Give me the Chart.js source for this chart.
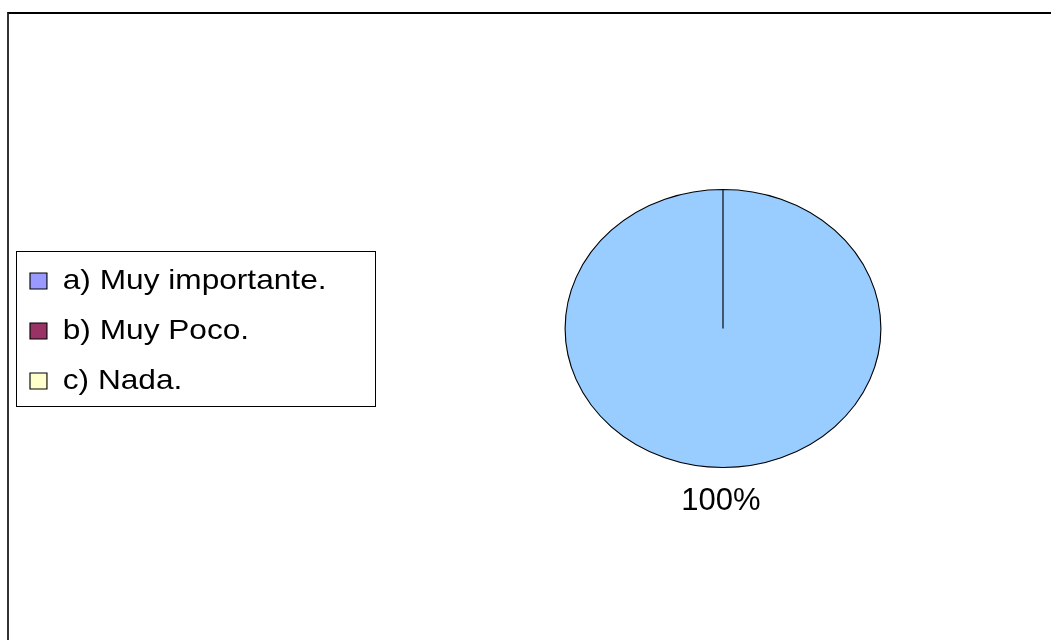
<!DOCTYPE html>
<html>
<head>
    <title>Importancia</title>
    <meta charset="utf-8">
    <script src="https://cdn.jsdelivr.net/npm/chart.js"></script>
    <style>
        html, body {
            margin: 0;
            padding: 0;
            background: #ffffff;
            overflow: hidden;
        }

        #frame {
            position: absolute;
            left: 7px;
            top: 12px;
            width: 1100px;
            height: 700px;
            border-top: 2px solid #000000;
            border-left: 2px solid #333333;
        }

        #chart-container {
            position: absolute;
            left: 0;
            top: 0;
            width: 1051px;
            height: 640px;
        }
    </style>
</head>
<body>
    <div id="frame"></div>
    <div id="chart-container">
        <canvas id="pieChart"></canvas>
    </div>
    <script>
        // Data
        var categories = ['a) Muy importante.', 'b) Muy Poco.', 'c) Nada.'];
        var values = [100, 0, 0];

        // Colours: the slice and the legend square of a) differ in the picture
        var sliceColors = ['#99CCFF', '#993366', '#FFFFCC'];
        var legendColors = ['#9999FF', '#993366', '#FFFFCC'];

        var FONT = "'Liberation Sans', Arial, sans-serif";
        var LEGEND_SX = 1.13;  // legend text is drawn a bit wider than normal
        var LEGEND_X = 30;     // left of the first legend square
        var LEGEND_TOP = 267;  // top of the first legend row
        var PIE_SX = 1.136;    // pie is an ellipse, not a circle

        function legendShift(chart) {
            return LEGEND_TOP - chart.legend.legendHitBoxes[0].top;
        }

        var legendStretch = {
            id: 'legendStretch',
            beforeDraw: function (chart) {
                var ctx = chart.ctx;
                var x0 = chart.legend.legendHitBoxes[0].left;
                ctx.save();
                ctx.translate(LEGEND_X, legendShift(chart));
                ctx.scale(LEGEND_SX, 1);
                ctx.translate(-x0, 0);
            },
            beforeDatasetsDraw: function (chart) {
                var ctx = chart.ctx;
                ctx.restore();

                // border round the legend
                var boxes = chart.legend.legendHitBoxes;
                var dy = legendShift(chart);
                var widest = Math.max.apply(null, boxes.map(function (b) { return b.width; }));
                var first = boxes[0], last = boxes[boxes.length - 1];
                var left = 16;
                var right = LEGEND_X + widest * LEGEND_SX + 48;
                var top = first.top + dy - 16;
                var bottom = last.top + last.height + dy + 11;
                ctx.save();
                ctx.strokeStyle = '#000000';
                ctx.lineWidth = 1;
                ctx.strokeRect(Math.round(left) + 0.5, Math.round(top) + 0.5,
                    Math.round(right - left), Math.round(bottom - top));
                ctx.restore();

                // stretch the pie sideways round its centre
                var arc = chart.getDatasetMeta(0).data[0];
                ctx.save();
                ctx.translate(arc.x, arc.y);
                ctx.scale(PIE_SX, 1);
                ctx.translate(-arc.x, -arc.y);
            },
            afterDatasetsDraw: function (chart) {
                var ctx = chart.ctx;
                ctx.restore();

                // percentage labels outside the slices
                var total = values.reduce(function (a, b) { return a + b; }, 0);
                chart.getDatasetMeta(0).data.forEach(function (arc, i) {
                    if (!values[i]) return;
                    var mid = (arc.startAngle + arc.endAngle) / 2;
                    var rx = arc.outerRadius * PIE_SX + 33.5;
                    var ry = arc.outerRadius + 33.5;
                    ctx.save();
                    ctx.fillStyle = '#000000';
                    ctx.font = '31px ' + FONT;
                    ctx.textAlign = 'center';
                    ctx.textBaseline = 'middle';
                    ctx.fillText(Math.round(values[i] / total * 100) + '%',
                        arc.x + Math.cos(mid) * rx - 2, arc.y + Math.sin(mid) * ry);
                    ctx.restore();
                });
            }
        };

        var ctx = document.getElementById('pieChart').getContext('2d');
        var pieChart = new Chart(ctx, {
            type: 'pie',
            data: {
                labels: categories,
                datasets: [{
                    data: values,
                    backgroundColor: sliceColors,
                    borderColor: '#000000',
                    borderWidth: 1
                }]
            },
            options: {
                responsive: true,
                maintainAspectRatio: false,
                animation: false,
                layout: {
                    padding: { left: 420, right: 25, top: 189, bottom: 172 }
                },
                plugins: {
                    legend: {
                        position: 'chartArea',
                        align: 'center',
                        onClick: null,
                        labels: {
                            boxWidth: 15,
                            boxHeight: 16,
                            padding: 22,
                            color: '#000000',
                            font: { family: FONT, size: 28 },
                            generateLabels: function (chart) {
                                return categories.map(function (text, i) {
                                    return {
                                        text: text,
                                        fillStyle: legendColors[i],
                                        strokeStyle: '#000000',
                                        lineWidth: 1,
                                        fontColor: '#000000',
                                        hidden: false,
                                        index: i
                                    };
                                });
                            }
                        }
                    },
                    tooltip: { enabled: false }
                }
            },
            plugins: [legendStretch]
        });
    </script>
</body>
</html>
